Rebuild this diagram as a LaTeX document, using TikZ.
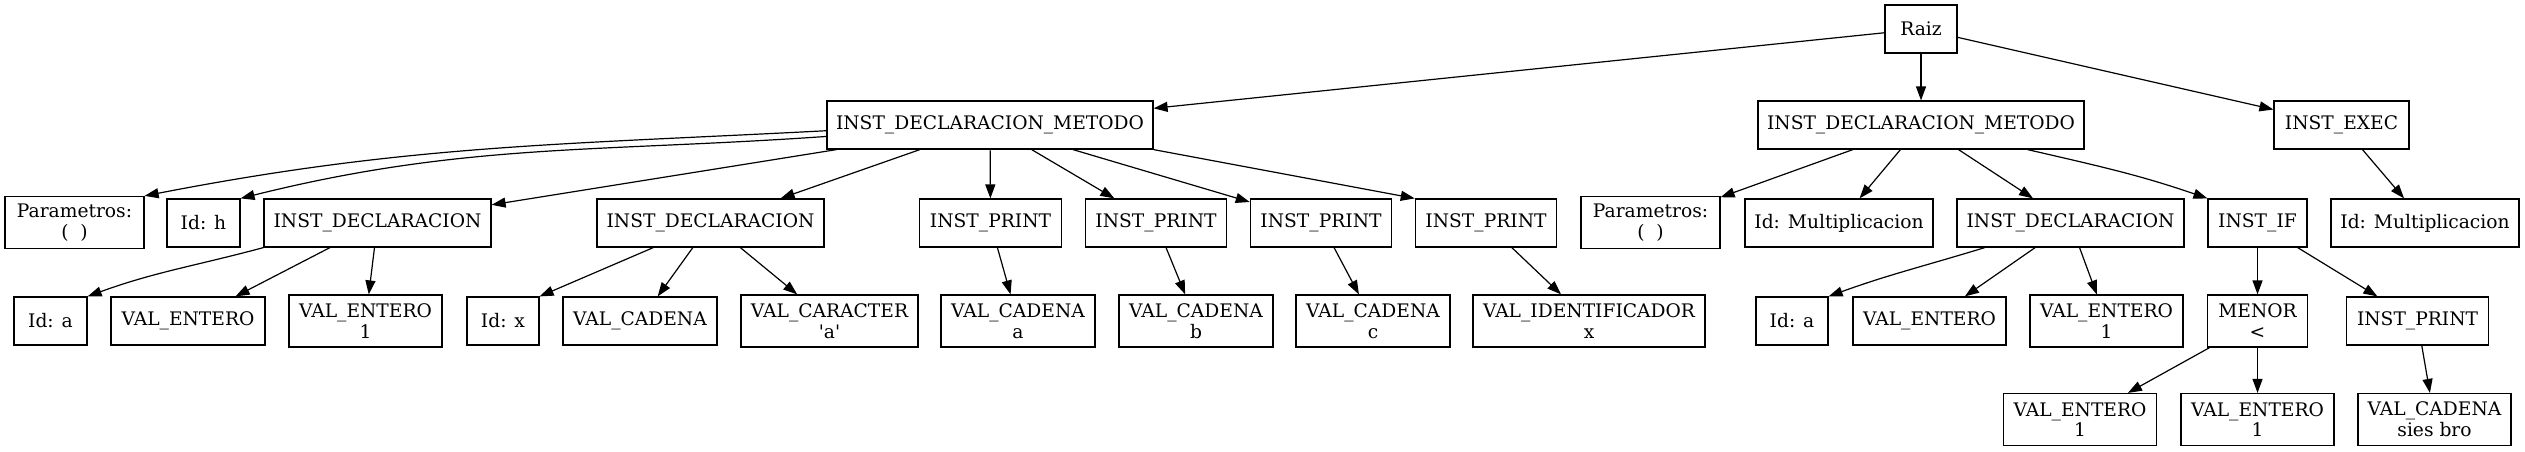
\documentclass[tikz,border=0pt]{standalone}
\usepackage{fontspec}
\setmainfont{DejaVu Serif}
\usetikzlibrary{arrows.meta}
\begin{document}
\begin{tikzpicture}[x=0.75pt,y=0.75pt,
  box/.style={draw, line width=0.9pt, rectangle, minimum height=36pt, inner xsep=2pt, inner ysep=2pt,
    font=\fontsize{14pt}{15.5pt}\selectfont, align=center},
  two/.style={minimum height=39pt},
  edge/.style={line width=0.9pt, -{Triangle[length=10.5pt,width=7.5pt]}}]
\fill[white] (0,0) rectangle (2525,-451);
\useasboundingbox (0,0) rectangle (2525,-451);
% row 0
\node[box, minimum width=54pt] (raiz) at (1921,-29) {Raiz};
% row 1
\node[box, minimum width=244.5pt] (idm1) at (990,-125) {INST\_DECLARACION\_METODO};
\node[box, minimum width=244.5pt] (idm2) at (1921,-125) {INST\_DECLARACION\_METODO};
\node[box, minimum width=101.25pt] (exec) at (2341.5,-125) {INST\_EXEC};
% row 2
\node[box, two, minimum width=104.25pt] (parL) at (74.5,-222.5) {Parametros:\\(~~)};
\node[box, minimum width=54.75pt] (idh) at (203.5,-223) {Id: h};
\node[box, minimum width=170.25pt] (decl1) at (377.5,-223) {INST\_DECLARACION};
\node[box, minimum width=170.25pt] (decl2) at (710.5,-223) {INST\_DECLARACION};
\node[box, minimum width=106pt] (pr1) at (990.5,-223) {INST\_PRINT};
\node[box, minimum width=106pt] (pr2) at (1156,-223) {INST\_PRINT};
\node[box, minimum width=106pt] (pr3) at (1321,-223) {INST\_PRINT};
\node[box, minimum width=106pt] (pr4) at (1486,-223) {INST\_PRINT};
\node[box, two, minimum width=104.25pt] (parR) at (1650.5,-222.5) {Parametros:\\(~~)};
\node[box, minimum width=141pt] (idmA) at (1839,-223) {Id: Multiplicacion};
\node[box, minimum width=170.25pt] (decl3) at (2070.5,-223) {INST\_DECLARACION};
\node[box, minimum width=74.25pt] (iff) at (2257.5,-223) {INST\_IF};
\node[box, minimum width=141pt] (idmB) at (2425,-223) {Id: Multiplicacion};
% row 3
\node[box, minimum width=54.75pt] (ida) at (50.5,-321) {Id: a};
\node[box, minimum width=115.5pt] (ve) at (188,-321) {VAL\_ENTERO};
\node[box, two, minimum width=114.75pt] (ve1) at (365.5,-321) {VAL\_ENTERO\\1};
\node[box, minimum width=54pt] (idx) at (503,-321) {Id: x};
\node[box, minimum width=115.5pt] (vc) at (640,-321) {VAL\_CADENA};
\node[box, two, minimum width=132.75pt] (vcar) at (829.5,-321) {VAL\_CARACTER\\\textquotesingle a\textquotesingle};
\node[box, two, minimum width=115.5pt] (vca) at (1018,-321) {VAL\_CADENA\\a};
\node[box, two, minimum width=115.5pt] (vcb) at (1196,-321) {VAL\_CADENA\\b};
\node[box, two, minimum width=115.5pt] (vcc) at (1373,-321) {VAL\_CADENA\\c};
\node[box, two, minimum width=174pt] (vid) at (1589,-321) {VAL\_IDENTIFICADOR\\x};
\node[box, minimum width=54pt] (ida2) at (1792,-321) {Id: a};
\node[box, minimum width=114.75pt] (ve2) at (1929.5,-321) {VAL\_ENTERO};
\node[box, two, minimum width=114.75pt] (ve12) at (2106.5,-321) {VAL\_ENTERO\\1};
\node[box, two, minimum width=75pt] (menor) at (2257.5,-321) {MENOR\\<};
\node[box, minimum width=106pt] (pr5) at (2417.5,-321) {INST\_PRINT};
% row 4
\node[box, two, minimum width=114.75pt] (ve13) at (2080,-419.5) {VAL\_ENTERO\\1};
\node[box, two, minimum width=114.75pt] (ve14) at (2257.5,-419.5) {VAL\_ENTERO\\1};
\node[box, two, minimum width=114.75pt] (vsb) at (2434.5,-419.5) {VAL\_CADENA\\sies bro};
% edges
\draw[edge] (raiz) -- (idm1);
\draw[edge] (raiz) -- (idm2);
\draw[edge] (raiz) -- (exec);
\draw[edge] (idm1.182) to[out=183,in=11] (parL.north east);
\draw[edge] (idm1.184) to[out=184,in=14] (idh.north east);
\draw[edge] (idm1) -- (decl1);
\draw[edge] (idm1) -- (decl2);
\draw[edge] (idm1) -- (pr1);
\draw[edge] (idm1) -- (pr2);
\draw[edge] (idm1) -- (pr3);
\draw[edge] (idm1.south east) -- (pr4.north west);
\draw[edge] (decl1.south west) to[out=195,in=20] (ida.north east);
\draw[edge] (decl1) -- (ve);
\draw[edge] (decl1) -- (ve1);
\draw[edge] (decl2) -- (idx.north east);
\draw[edge] (decl2) -- (vc);
\draw[edge] (decl2) -- (vcar);
\draw[edge] (pr1) -- (vca);
\draw[edge] (pr2) -- (vcb);
\draw[edge] (pr3) -- (vcc);
\draw[edge] (pr4) -- (vid);
\draw[edge] (idm2) -- (parR);
\draw[edge] (idm2) -- (idmA);
\draw[edge] (idm2) -- (decl3);
\draw[edge] (idm2.-13) to[out=-13,in=161] (iff.north west);
\draw[edge] (exec) -- (idmB);
\draw[edge] (decl3.196) to[out=197,in=20] (ida2.north east);
\draw[edge] (decl3) -- (ve2);
\draw[edge] (decl3) -- (ve12);
\draw[edge] (iff) -- (menor);
\draw[edge] (iff) -- (pr5);
\draw[edge] (menor) -- (ve13);
\draw[edge] (menor) -- (ve14);
\draw[edge] (pr5) -- (vsb);
\end{tikzpicture}
\end{document}
